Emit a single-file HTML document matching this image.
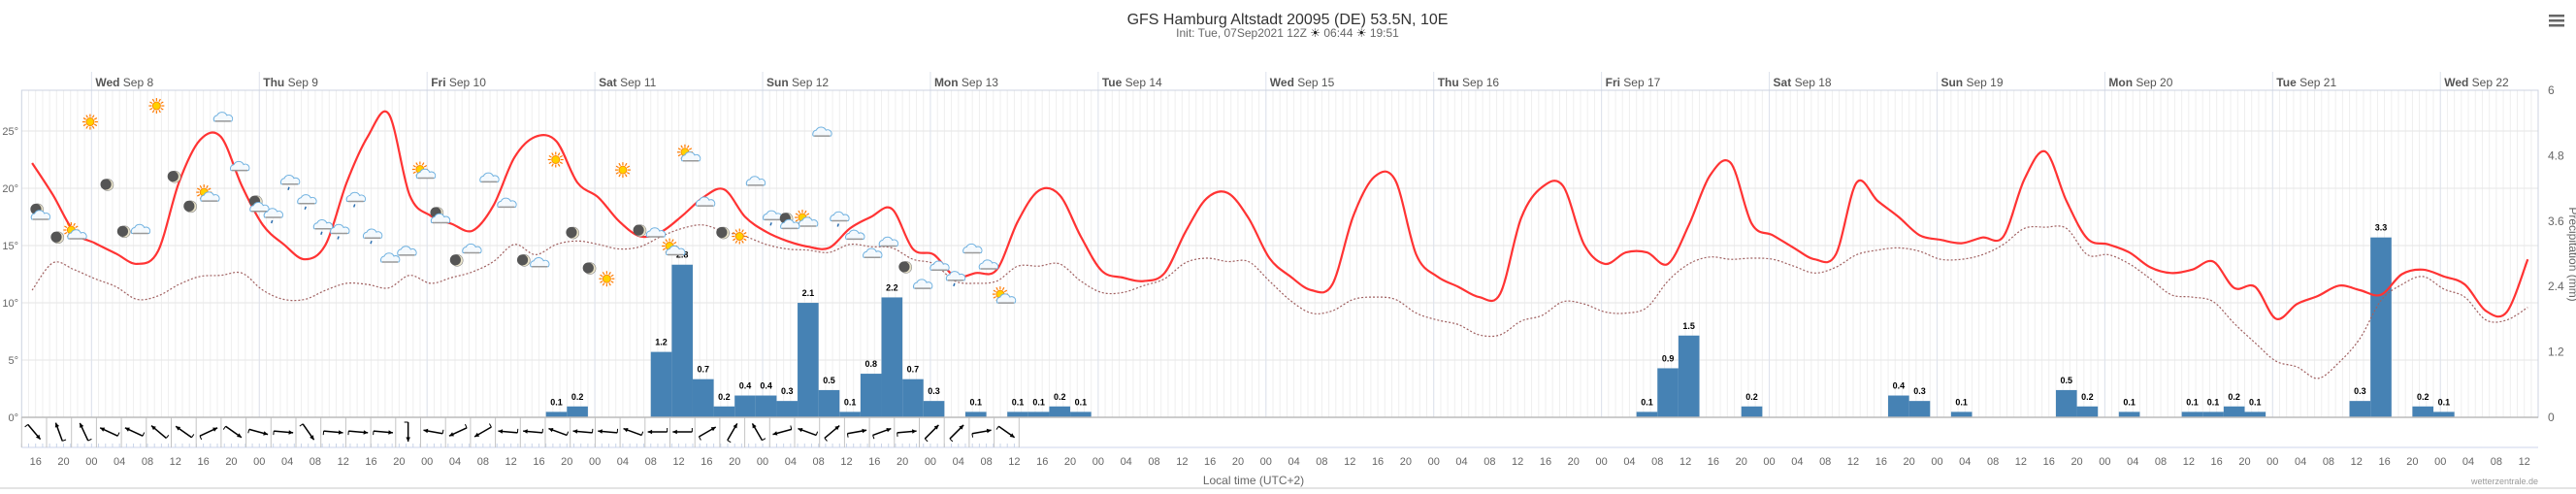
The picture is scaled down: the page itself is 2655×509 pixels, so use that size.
<!DOCTYPE html>
<html><head><meta charset="utf-8">
<style>
html,body{margin:0;padding:0;background:#fff;}
body{width:2655px;height:504px;overflow:hidden;font-family:"Liberation Sans",sans-serif;}
svg text{font-family:"Liberation Sans",sans-serif;}
</style></head>
<body>
<svg id="chart" width="2655" height="504" xmlns="http://www.w3.org/2000/svg">
<rect x="0" y="0" width="2655" height="504" fill="#fff"/>
<text x="1327" y="25" text-anchor="middle" font-size="16" fill="#333">GFS Hamburg Altstadt 20095 (DE) 53.5N, 10E</text>
<text x="1327" y="38" text-anchor="middle" font-size="12" fill="#666">Init: Tue, 07Sep2021 12Z <tspan fill="#222">☀</tspan> 06:44 <tspan fill="#222">☀</tspan> 19:51</text>
<g>
<rect x="2627" y="15" width="16" height="2.5" fill="#666"/><rect x="2627" y="20" width="16" height="2.5" fill="#666"/><rect x="2627" y="25" width="16" height="2.5" fill="#666"/>
</g>
<g id="grid"></g>
<g id="bars"></g>
<g id="lines"></g>
<g id="icons"></g>
<g id="wind"></g>
<g id="axes"></g>
<text x="1292" y="499" text-anchor="middle" font-size="12" fill="#666">Local time (UTC+2)</text>
<text x="2616" y="499" text-anchor="end" font-size="9" fill="#999">wetterzentrale.de</text>
<text transform="translate(2648,262) rotate(90)" text-anchor="middle" font-size="12" fill="#666">Precipitation (mm)</text>
</svg>
<script>
// ---- data ----
var tempData=[22.2,19.4,16.2,15.2,14.3,13.4,14.5,20.5,24.2,24.5,20.2,16.8,15.1,13.8,15.1,20.5,24.5,26.5,19.4,17.6,16.9,16.3,18.5,22.7,
24.5,24.1,20.5,19.2,17.1,15.8,16.2,17.6,19.2,19.9,17.5,16.2,15.4,14.9,14.8,16.5,17.5,18.2,14.7,14.2,12.3,12.6,12.9,17.1,
19.8,19.4,15.8,12.8,12.2,11.9,12.6,16.2,19.1,19.6,17.4,13.9,12.3,11.1,11.6,17.6,21.0,20.7,14.2,12.3,11.4,10.5,10.8,17.4,
20.1,20.2,15.1,13.4,14.4,14.4,13.4,16.8,21.1,22.2,16.9,15.9,14.8,13.8,14.2,20.5,18.9,17.5,15.9,15.5,15.2,15.7,15.8,20.8,
23.2,18.9,15.6,15.1,14.4,13.1,12.6,12.9,13.6,11.3,11.4,8.6,9.9,10.6,11.5,11.1,10.7,12.5,12.9,12.3,11.6,9.3,9.2,13.8];
var dewData=[11.1,13.5,12.9,12.1,11.4,10.3,10.6,11.6,12.3,12.4,12.6,11.1,10.3,10.3,11.1,11.7,11.6,11.3,12.4,11.7,12.2,12.7,13.6,15.1,
14.2,15.1,15.4,15.1,14.7,14.9,15.8,16.5,16.8,16.2,15.8,15.1,14.7,14.6,14.4,15.1,14.9,14.8,13.8,13.4,11.9,11.7,11.9,13.2,
13.2,13.4,11.9,10.9,10.9,11.5,12.1,13.5,13.9,13.6,13.6,11.9,10.2,9.1,9.3,10.3,10.5,10.3,9.1,8.5,8.1,7.2,7.2,8.4,
8.9,10.1,9.9,9.2,9.1,9.6,11.9,13.4,14.0,13.8,13.9,13.8,13.2,12.6,13.1,14.2,14.6,14.8,14.5,13.8,13.8,14.2,15.1,16.5,
16.6,16.5,14.2,14.2,13.4,12.1,10.7,10.5,10.1,8.2,6.5,4.9,4.4,3.4,4.8,6.9,10.2,11.6,12.3,11.2,10.5,8.5,8.5,9.6];
var precipIndex=[25,26,30,31,32,33,34,35,36,37,38,39,40,41,42,43,45,47,48,49,50,77,78,79,82,89,90,92,97,98,100,103,104,105,106,111,112,114,115];
var precipValues=[0.1,0.2,1.2,2.8,0.7,0.2,0.4,0.4,0.3,2.1,0.5,0.1,0.8,2.2,0.7,0.3,0.1,0.1,0.1,0.2,0.1,0.1,0.9,1.5,0.2,0.4,0.3,0.1,0.5,0.2,0.1,0.1,0.1,0.2,0.1,0.3,3.3,0.2,0.1];
var windDir=[50,-110,-115,-155,-155,-140,-145,-25,35,15,5,55,5,5,5,90,190,155,150,185,
185,200,185,185,200,180,180,-30,-60,-120,165,200,-40,-10,-20,-5,-45,-45,-10,35];
var dayNames=["Wed","Thu","Fri","Sat","Sun","Mon","Tue","Wed","Thu","Fri","Sat","Sun","Mon","Tue","Wed"];
var dayDates=["Sep 8","Sep 9","Sep 10","Sep 11","Sep 12","Sep 13","Sep 14","Sep 15","Sep 16","Sep 17","Sep 18","Sep 19","Sep 20","Sep 21","Sep 22"];
var tempTicks=[0,5,10,15,20,25];
var precipTicks=["0","1.2","2.4","3.6","4.8","6"];
var iconHours=[2.7,5.2,7.5,9.8,12.3,14.7,17.0,19.3,21.9,24.2,26.5,28.8,31.2,34.0,36.0,38.4,40.8,43.1,45.5,47.8,50.2,52.7,55.1,57.4,59.9,62.3,64.4,66.9,69.4,71.9,74.1,76.4,78.9,81.3,83.7,86.0,88.5,90.7,93.1,95.3,97.8,100.4,102.7,105.0,107.4,109.9,112.1,114.5,117.0,119.2,121.7,124.0,126.5,128.9,131.3,133.6,136.0,138.3,140.4];
var iconTemps=[17.8,15.7,16.1,25.8,20.3,16.2,16.4,27.2,21.0,18.4,19.4,26.2,21.9,18.5,17.8,20.7,19.0,16.8,16.4,19.2,16.0,13.9,14.5,21.4,17.5,13.7,14.7,20.9,18.7,13.7,13.5,22.5,16.1,13.0,12.1,21.6,16.3,16.1,14.7,22.9,18.8,16.1,15.8,20.6,17.6,17.0,17.2,24.9,17.5,15.9,14.3,15.3,13.1,11.6,13.2,12.3,14.7,13.3,10.5];
var iconTypes=["mc","m","sc","s","m","m","c","s","m","m","sc","c","c","mc","r","r","r","r","r","r","r","c","c","sc","mc","m","c","c","c","m","c","s","m","m","s","s","m","c","sc","sc","c","m","s","c","r","mc","sc","c","r","c","c","c","m","c","c","r","c","c","sc"];

// ---- scales ----
var X0=22.3,X1=2616,PXH=7.205,YB=430,YT=93;
function xOf(h){return X0+h*PXH;}
function yT(t){return YB-t*11.8;}
function yP(mm){return YB-mm*(YB-YT)/6;}
var NS="http://www.w3.org/2000/svg";
function mk(tag,attrs,parent){var e=document.createElementNS(NS,tag);for(var k in attrs)e.setAttribute(k,attrs[k]);parent.appendChild(e);return e;}

var grid=document.getElementById('grid'),bars=document.getElementById('bars'),lines=document.getElementById('lines'),icons=document.getElementById('icons'),wind=document.getElementById('wind'),axes=document.getElementById('axes');

// hourly vertical grid
for(var h=1;h<360;h++){
  var l=mk('line',{x1:xOf(h),x2:xOf(h),y1:YT,y2:YB,stroke:'#efefef','stroke-width':1},grid);
  
  
}
// horizontal temp grid
tempTicks.forEach(function(t){
  var l=mk('line',{x1:X0,x2:X1,y1:yT(t),y2:yT(t),stroke:'#e6e6e6','stroke-width':1},grid);
  
  
  var tx=mk('text',{x:19,y:yT(t)+4,'text-anchor':'end','font-size':11,fill:'#666'},axes);
  tx.textContent=t+'°';
  
  
});
precipTicks.forEach(function(p,i){
  var tx=mk('text',{x:2626,y:yP(i*1.2)+4,'font-size':12,fill:'#666'},axes);
  tx.textContent=p;
  
  
});
// day separators and labels
dayNames.forEach(function(d,i){
  var x=xOf(10+24*i);
  var l=mk('line',{x1:x,x2:x,y1:74,y2:YB,stroke:'#dde2ec','stroke-width':1},grid);
  
  
  var tx=mk('text',{x:x+4,y:89,'font-size':12,fill:'#555'},axes);
  tx.innerHTML='<tspan font-weight="bold">'+d+'</tspan> '+dayDates[i];
  
  
});
// plot frame
var fr=mk('rect',{x:X0,y:YT,width:X1-X0,height:YB-YT,fill:'none',stroke:'#ccd3e0','stroke-width':1},axes);


var bl=mk('line',{x1:X0,x2:X1,y1:YB,y2:YB,stroke:'#bbb','stroke-width':1.5},axes);



// precip bars
precipIndex.forEach(function(k,i){
  var v=precipValues[i];
  var x=xOf(3*k),w=3*PXH;
  var r=mk('rect',{x:x,y:yP(v),width:w,height:YB-yP(v),fill:'#4682b4'},bars);
  
  
  var tx=mk('text',{x:x+w/2,y:yP(v)-7,'text-anchor':'middle','font-size':9,'font-weight':'bold',fill:'#000'},bars);
  tx.textContent=v.toFixed(1);
  
  
});

// smooth path
function smooth(vals){
  var pts=vals.map(function(v,i){return [xOf(1.5+3*i),yT(v)];});
  var d='M'+pts[0][0].toFixed(1)+','+pts[0][1].toFixed(1);
  for(var i=0;i<pts.length-1;i++){
    var p0=pts[Math.max(0,i-1)],p1=pts[i],p2=pts[i+1],p3=pts[Math.min(pts.length-1,i+2)];
    var c1=[p1[0]+(p2[0]-p0[0])/6,p1[1]+(p2[1]-p0[1])/6],c2=[p2[0]-(p3[0]-p1[0])/6,p2[1]-(p3[1]-p1[1])/6];
    d+='C'+c1[0].toFixed(1)+','+c1[1].toFixed(1)+' '+c2[0].toFixed(1)+','+c2[1].toFixed(1)+' '+p2[0].toFixed(1)+','+p2[1].toFixed(1);
  }
  return d;
}
var dew=mk('path',{d:smooth(dewData),fill:'none',stroke:'#a06060','stroke-width':1.2,'stroke-dasharray':'2,2'},lines);


var tl=mk('path',{d:smooth(tempData),fill:'none',stroke:'#ff3333','stroke-width':2.2},lines);



// icons
function cloud(g,cx,cy){
  mk('path',{d:'M'+(cx-9)+','+(cy+4)+' a4,4 0 0 1 3,-6 a5.5,5.5 0 0 1 10,0 a4,4 0 0 1 5,6 z',fill:'#f4f9fd',stroke:'#6fb1e0','stroke-width':1},g);
  mk('line',{x1:cx-8,x2:cx+8,y1:cy+4,y2:cy+4,stroke:'#999','stroke-width':1.5},g);
}
function sun(g,cx,cy){
  for(var a=0;a<360;a+=30){var r=a*Math.PI/180;mk('line',{x1:cx+5*Math.cos(r),y1:cy+5*Math.sin(r),x2:cx+8*Math.cos(r),y2:cy+8*Math.sin(r),stroke:'#ff7a00','stroke-width':1.2},g);}
  mk('circle',{cx:cx,cy:cy,r:4,fill:'#ffd000',stroke:'#ff8c00','stroke-width':1},g);
}
function moon(g,cx,cy){
  mk('circle',{cx:cx,cy:cy,r:6,fill:'#e8e2c8',stroke:'#888','stroke-width':0.6},g);
  mk('circle',{cx:cx-1.8,cy:cy-0.5,r:5.6,fill:'#555'},g);
}
iconTypes.forEach(function(t,i){
  var cx=xOf(iconHours[i]),cy=yT(iconTemps[i]);
  var g=mk('g',{},icons);
  
  
  if(t==='s')sun(g,cx,cy);
  else if(t==='m')moon(g,cx,cy);
  else if(t==='c')cloud(g,cx,cy);
  else if(t==='sc'){sun(g,cx-3,cy-3);cloud(g,cx+3,cy+2);}
  else if(t==='mc'){moon(g,cx-3,cy-4);cloud(g,cx,cy+2);}
  else if(t==='r'){cloud(g,cx,cy);mk('line',{x1:cx-1,y1:cy+7,x2:cx-2,y2:cy+10,stroke:'#2a6db0','stroke-width':1.5},g);}
});

// wind row
var wb=mk('line',{x1:X0,x2:X1,y1:461,y2:461,stroke:'#ccd6eb','stroke-width':1},wind);


var CW=25.7;
for(var h2=0;h2<143;h2++){
  var x=xOf(h2);
  mk('line',{x1:x,x2:x,y1:457,y2:461,stroke:'#c9d4e8','stroke-width':1},wind);
}
windDir.forEach(function(a,i){
  var x0=X0+i*CW;
  var s=mk('line',{x1:x0,x2:x0,y1:YB,y2:461,stroke:'#c4c4c4','stroke-width':1},wind);
  
  
  var cx=x0+CW/2,cy=445,r=a*Math.PI/180,L=10;
  var hx=cx+L*Math.cos(r),hy=cy+L*Math.sin(r),tx=cx-L*Math.cos(r),ty=cy-L*Math.sin(r);
  var g=mk('g',{},wind);
  
  
  mk('line',{x1:tx,y1:ty,x2:hx,y2:hy,stroke:'#000','stroke-width':1.5},g);
  var a1=r+Math.PI*0.85,a2=r-Math.PI*0.85;
  mk('polygon',{points:hx+','+hy+' '+(hx+5*Math.cos(a1))+','+(hy+5*Math.sin(a1))+' '+(hx+5*Math.cos(a2))+','+(hy+5*Math.sin(a2)),fill:'#000'},g);
  var br=r+Math.PI/2;
  mk('line',{x1:tx,y1:ty,x2:tx+4*Math.cos(br),y2:ty+4*Math.sin(br),stroke:'#000','stroke-width':1},g);
});
mk('line',{x1:X0+40*CW,x2:X0+40*CW,y1:YB,y2:461,stroke:'#c4c4c4','stroke-width':1},wind);

// hour tick labels
for(var hh=2;hh<=358;hh+=4){
  var clock=(14+hh)%24;
  var t=mk('text',{x:xOf(hh),y:479,'text-anchor':'middle','font-size':11,fill:'#666'},axes);
  t.textContent=(clock<10?'0':'')+clock;
  
  
}
var bb=mk('line',{x1:0,x2:2655,y1:503,y2:503,stroke:'#e4e4e4','stroke-width':2},axes);


</script>
</body></html>
